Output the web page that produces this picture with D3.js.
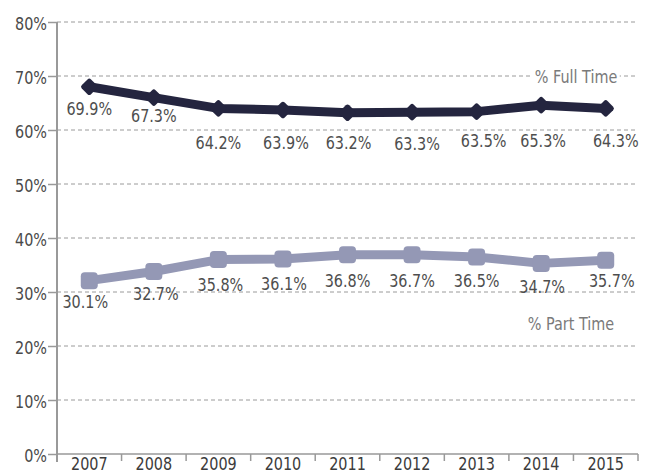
<!DOCTYPE html>
<html>
<head>
<meta charset="utf-8">
<script src="https://cdn.jsdelivr.net/npm/d3@7"></script>
<style>
  body { margin: 0; background: #fff; }
  text { font-family: "DejaVu Sans", sans-serif; }
</style>
</head>
<body>
<svg id="chart1"></svg>
<script>
// data
var years = ["2007", "2008", "2009", "2010", "2011", "2012", "2013", "2014", "2015"];
var fullTime = [68.0, 66.0, 64.0, 63.7, 63.2, 63.3, 63.4, 64.6, 64.0];
var partTime = [32.1, 33.8, 36.0, 36.1, 36.9, 36.9, 36.5, 35.3, 35.9];
var fullTimeLabels = ["69.9%", "67.3%", "64.2%", "63.9%", "63.2%", "63.3%", "63.5%", "65.3%", "64.3%"];
var partTimeLabels = ["30.1%", "32.7%", "35.8%", "36.1%", "36.8%", "36.7%", "36.5%", "34.7%", "35.7%"];
var yTicks = [0, 10, 20, 30, 40, 50, 60, 70, 80];

var dimensions = {
    width: 647,
    height: 475,
    margin: { top: 22, bottom: 21, left: 57, right: 9 }
}

var navy = "#24253f";
var lilac = "#9498b5";
var squeeze = 0.8; // the original uses a condensed face

var svg = d3.select("#chart1")
    .attr("width", dimensions.width)
    .attr("height", dimensions.height);

// squash text horizontally around its own anchor
function narrow(sel) {
    sel.each(function() {
        var t = d3.select(this);
        var x = +t.attr("x") || 0, y = +t.attr("y") || 0;
        t.attr("x", 0).attr("y", 0)
         .attr("transform", `translate(${x},${y}) scale(${squeeze},1)`);
    });
}

var xScale = d3.scaleBand()
    .domain(years)
    .range([dimensions.margin.left, dimensions.width - dimensions.margin.right]);

var yScale = d3.scaleLinear()
    .domain([0, 80])
    .range([dimensions.height - dimensions.margin.bottom, dimensions.margin.top]);

var cx = d => xScale(d) + xScale.bandwidth() / 2;

// gridlines
svg.append("g")
    .selectAll("line")
    .data(yTicks.filter(t => t > 0))
    .enter()
    .append("line")
    .attr("x1", dimensions.margin.left)
    .attr("x2", dimensions.width - dimensions.margin.right)
    .attr("y1", d => yScale(d))
    .attr("y2", d => yScale(d))
    .attr("stroke", "#9a9a9a")
    .attr("stroke-width", 1)
    .attr("stroke-dasharray", "4,3");

// y axis
var yAxis = svg.append("g")
    .attr("transform", `translate(${dimensions.margin.left},0)`)
    .call(d3.axisLeft(yScale).tickValues(yTicks).tickSize(9).tickPadding(1).tickFormat(d => d + "%"));
yAxis.select(".domain").remove();
yAxis.append("line")
    .attr("x1", 0).attr("x2", 0)
    .attr("y1", yScale(80)).attr("y2", yScale(0) + 8)
    .attr("stroke", "#999").attr("stroke-width", 2);
yAxis.selectAll(".tick line").attr("stroke", "#999").attr("stroke-width", 1.5);
yAxis.selectAll(".tick text")
    .attr("fill", "#4a4a4a")
    .style("font-size", "18px")
    .attr("dy", null)
    .attr("y", 7)
    .call(narrow);

// x axis
var xAxis = svg.append("g")
    .attr("transform", `translate(0,${yScale(0)})`)
    .call(d3.axisBottom(xScale).tickSize(0).tickPadding(0));
xAxis.select(".domain").remove();
xAxis.append("line")
    .attr("x1", dimensions.margin.left).attr("x2", dimensions.width - dimensions.margin.right)
    .attr("y1", 0).attr("y2", 0)
    .attr("stroke", "#999").attr("stroke-width", 1.5);
xAxis.selectAll(".sep")
    .data(years)
    .enter()
    .append("line")
    .attr("x1", d => xScale(d) + xScale.bandwidth())
    .attr("x2", d => xScale(d) + xScale.bandwidth())
    .attr("y1", 0).attr("y2", 7)
    .attr("stroke", "#999").attr("stroke-width", 1.5);
xAxis.selectAll(".tick text")
    .attr("fill", "#3c3c3c")
    .style("font-size", "18px")
    .attr("dy", null)
    .attr("y", 16)
    .call(narrow);

// series name labels with white backing
function seriesName(txt, x, y) {
    var g = svg.append("g");
    var t = g.append("text")
        .attr("x", x).attr("y", y)
        .attr("text-anchor", "middle")
        .attr("fill", "#7a7a7a")
        .style("font-size", "18px")
        .text(txt)
        .call(narrow);
    var b = t.node().getBBox();
    g.insert("rect", "text")
        .attr("x", x + (b.x - 3) * squeeze).attr("y", y + b.y)
        .attr("width", (b.width + 6) * squeeze).attr("height", b.height)
        .attr("fill", "#fff");
}
seriesName("% Full Time", 576, yScale(70) + 7);
seriesName("% Part Time", 571, 330);

// lines
var line = d3.line().x((d, i) => cx(years[i])).y(d => yScale(d));

svg.append("path")
    .datum(partTime)
    .attr("d", line)
    .attr("fill", "none")
    .attr("stroke", lilac)
    .attr("stroke-width", 9)
    .attr("stroke-linejoin", "round");

svg.selectAll(".pmark")
    .data(partTime)
    .enter()
    .append("rect")
    .attr("x", (d, i) => cx(years[i]) - 8.5)
    .attr("y", d => yScale(d) - 8.5)
    .attr("width", 17).attr("height", 17)
    .attr("rx", 4)
    .attr("fill", lilac);

svg.append("path")
    .datum(fullTime)
    .attr("d", line)
    .attr("fill", "none")
    .attr("stroke", navy)
    .attr("stroke-width", 9)
    .attr("stroke-linejoin", "round");

svg.selectAll(".fmark")
    .data(fullTime)
    .enter()
    .append("rect")
    .attr("x", -6.5).attr("y", -6.5)
    .attr("width", 13).attr("height", 13)
    .attr("rx", 2.5)
    .attr("fill", navy)
    .attr("transform", (d, i) => `translate(${cx(years[i])},${yScale(d)}) rotate(45)`);

// data labels (hand-placed in the original, nudged per point)
var fullNudge = [[0, 28], [0, 24], [0, 41], [3, 39], [1, 36], [5, 38], [7, 35], [2, 42], [10, 39]];
var partNudge = [[-4, 27], [2, 29], [2, 31], [1, 31], [0, 32], [0, 32], [0, 30], [1, 30], [6, 27]];

svg.selectAll(".flabel")
    .data(fullTime)
    .enter()
    .append("text")
    .attr("x", (d, i) => cx(years[i]) + fullNudge[i][0])
    .attr("y", (d, i) => yScale(d) + fullNudge[i][1])
    .attr("text-anchor", "middle")
    .attr("fill", "#4e4e4e")
    .style("font-size", "18px")
    .text((d, i) => fullTimeLabels[i])
    .call(narrow);

svg.selectAll(".plabel")
    .data(partTime)
    .enter()
    .append("text")
    .attr("x", (d, i) => cx(years[i]) + partNudge[i][0])
    .attr("y", (d, i) => yScale(d) + partNudge[i][1])
    .attr("text-anchor", "middle")
    .attr("fill", "#4e4e4e")
    .style("font-size", "18px")
    .text((d, i) => partTimeLabels[i])
    .call(narrow);
</script>
</body>
</html>
